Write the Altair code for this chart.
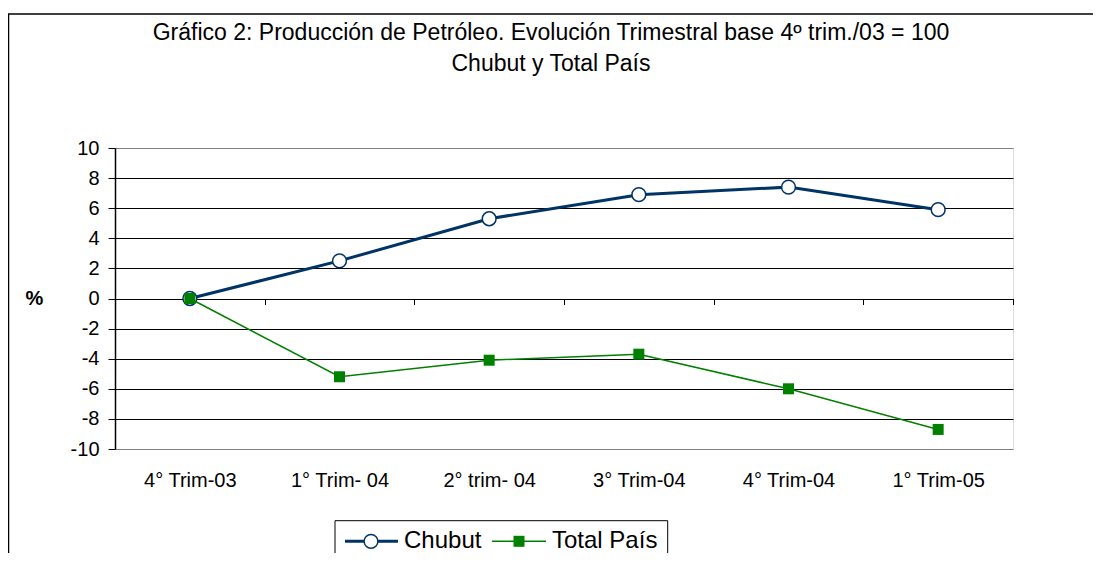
import altair as alt
import pandas as pd

# ---- data ----
QUARTERS = ["4° Trim-03", "1° Trim- 04", "2° trim- 04", "3° Trim-04", "4° Trim-04", "1° Trim-05"]
CHUBUT = [0.0, 2.5, 5.3, 6.9, 7.4, 5.9]
TOTAL_PAIS = [0.0, -5.2, -4.1, -3.7, -6.0, -8.7]
SERIES = ["Chubut", "Total País"]
TITLE_LINES = ["Gráfico 2: Producción de Petróleo. Evolución Trimestral base 4º trim./03 = 100",
               "Chubut y Total País"]
Y_TICKS = list(range(-10, 11, 2))
Y_TITLE = "%"

NAVY = "#003366"
GREEN = "#008000"
FONT = "Liberation Sans"
FS = 20
TFS = 23
LFS = 24

W, H = 898, 301

df_c = pd.DataFrame({"quarter": QUARTERS, "value": CHUBUT, "series": SERIES[0]})
df_t = pd.DataFrame({"quarter": QUARTERS, "value": TOTAL_PAIS, "series": SERIES[1]})

x_enc = alt.X(
    "quarter:N", sort=QUARTERS,
    scale=alt.Scale(type="band", paddingInner=0, paddingOuter=0),
    axis=alt.Axis(title=None, orient="bottom", offset=-150.5, domain=False,
                  ticks=True, tickBand="extent", tickSize=6, tickColor="black", tickWidth=1,
                  labelAngle=0, labelFont=FONT, labelFontSize=FS, labelColor="black",
                  labelPadding=182, labelBaseline="alphabetic", grid=False,
                  labelOverlap=False),
)
y_enc = alt.Y(
    "value:Q",
    scale=alt.Scale(domain=[-10, 10], nice=False, zero=False),
    axis=alt.Axis(values=Y_TICKS, grid=True, labelExpr="'' + datum.value",
                  gridColor={"condition": {"test": "abs(datum.value) == 10", "value": "#808080"}, "value": "black"},
                  gridWidth=1, gridOpacity=1,
                  domain=True, domainColor="black", domainWidth=1.5,
                  ticks=True, tickSize=7, tickColor="black", tickWidth=1,
                  labelFont=FONT, labelFontSize=FS, labelColor="black", labelPadding=9,
                  labelFlush=False, labelOverlap=False,
                  title=Y_TITLE, titleAngle=0, titleX=-81, titleY=150.5, titleAlign="center",
                  titleBaseline="middle", titleFont=FONT, titleFontSize=FS,
                  titleFontWeight="bold", titleColor="black"),
)

one = alt.Data(values=[{}])

frame = alt.Chart(one).mark_rect(filled=False, stroke="black", strokeWidth=1.5).encode(
    x=alt.value(-106.5), x2=alt.value(1200), y=alt.value(-134), y2=alt.value(700))

title1 = alt.Chart(one).mark_text(font=FONT, fontSize=TFS, color="black", align="center",
                                  baseline="alphabetic").encode(
    x=alt.value(436), y=alt.value(-108), text=alt.value(TITLE_LINES[0]))
title2 = alt.Chart(one).mark_text(font=FONT, fontSize=TFS, color="black", align="center",
                                  baseline="alphabetic").encode(
    x=alt.value(436), y=alt.value(-77), text=alt.value(TITLE_LINES[1]))

line_c = alt.Chart(df_c).mark_line(color=NAVY, strokeWidth=3).encode(x=x_enc, y=y_enc)
pts_c = alt.Chart(df_c).mark_point(shape="circle", filled=True, fill="white", stroke=NAVY,
                                   strokeWidth=1.5, size=190, opacity=1).encode(x=x_enc, y=y_enc)
line_t = alt.Chart(df_t).mark_line(color=GREEN, strokeWidth=1.5).encode(x=x_enc, y=y_enc)
pts_t = alt.Chart(df_t).mark_point(shape="square", filled=True, color=GREEN, size=121,
                                   opacity=1).encode(x=x_enc, y=y_enc)

# legend (drawn)
LY = 393.3
leg_box = alt.Chart(one).mark_rect(fill="white", stroke="black", strokeWidth=1).encode(
    x=alt.value(220), x2=alt.value(552.7), y=alt.value(372.7), y2=alt.value(460))
leg_line_c = alt.Chart(one).mark_rule(color=NAVY, strokeWidth=3).encode(
    x=alt.value(230), x2=alt.value(283), y=alt.value(LY))
leg_pt_c = alt.Chart(one).mark_point(shape="circle", filled=True, fill="white", stroke=NAVY,
                                     strokeWidth=1.5, size=190, opacity=1).encode(
    x=alt.value(256), y=alt.value(LY))
leg_txt_c = alt.Chart(one).mark_text(font=FONT, fontSize=LFS, color="black", align="left",
                                     baseline="alphabetic").encode(
    x=alt.value(289), y=alt.value(400), text=alt.value(SERIES[0]))
leg_line_t = alt.Chart(one).mark_rule(color=GREEN, strokeWidth=1.5).encode(
    x=alt.value(377), x2=alt.value(431), y=alt.value(LY))
leg_pt_t = alt.Chart(one).mark_point(shape="square", filled=True, color=GREEN, size=121,
                                     opacity=1).encode(x=alt.value(404), y=alt.value(LY))
leg_txt_t = alt.Chart(one).mark_text(font=FONT, fontSize=LFS, color="black", align="left",
                                     baseline="alphabetic").encode(
    x=alt.value(437), y=alt.value(400), text=alt.value(SERIES[1]))

chart = alt.layer(
    frame, title1, title2, line_c, pts_c, line_t, pts_t,
    leg_box, leg_line_c, leg_pt_c, leg_txt_c, leg_line_t, leg_pt_t, leg_txt_t,
).properties(
    width=W, height=H,
    autosize=alt.AutoSizeParams(type="none"),
    padding={"left": 107, "top": 140, "right": 80, "bottom": 104},
    background="white",
).configure_view(
    fill="#f2f2f2", stroke="#808080", strokeWidth=1.5,
).configure(font=FONT)

chart.save("out.html", embed_options={"renderer": "svg", "actions": False})
